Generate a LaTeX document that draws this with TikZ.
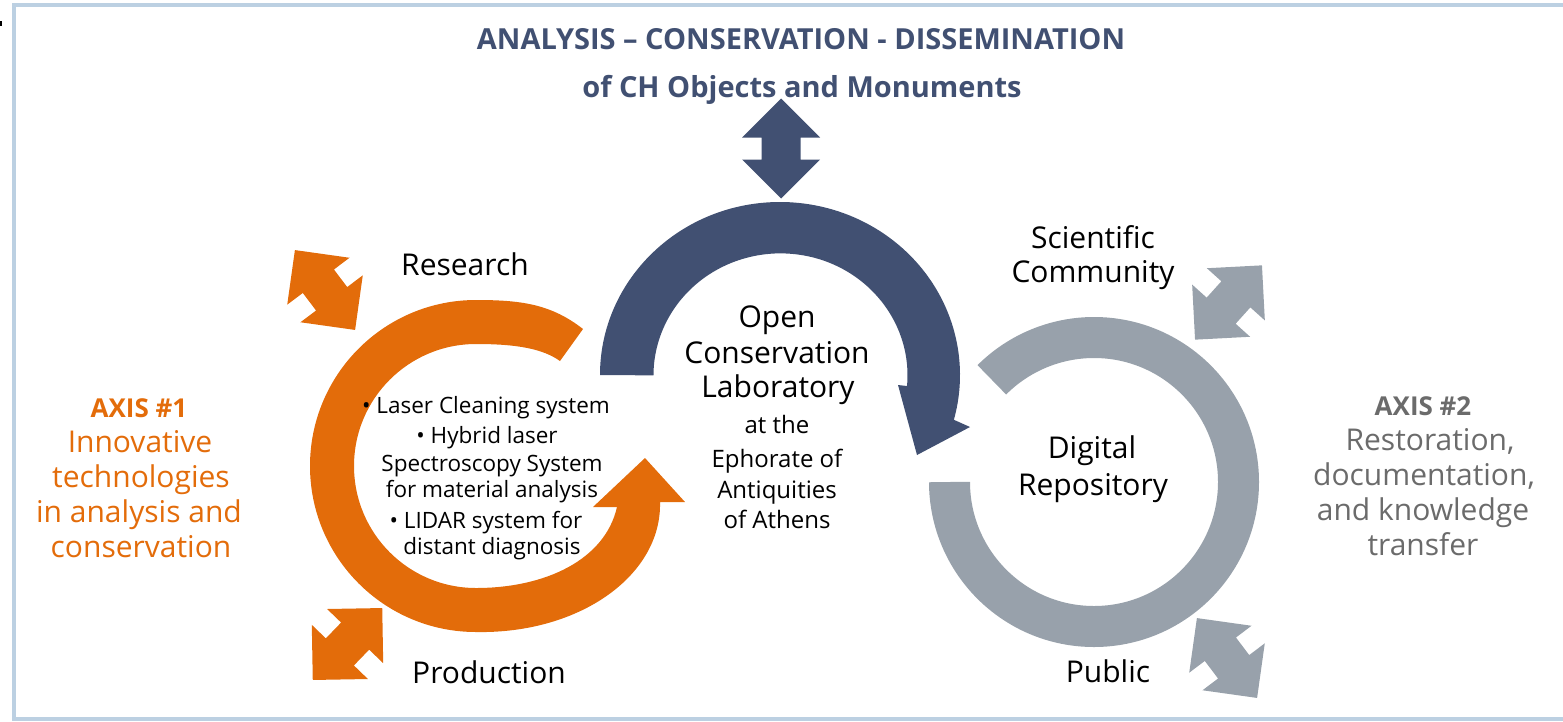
\documentclass[tikz,border=0pt]{standalone}
\usepackage{fontspec}
\setmainfont{Open Sans}
\definecolor{axisorange}{HTML}{E36C0A}
\definecolor{labblue}{HTML}{415072}
\definecolor{repogray}{HTML}{98A1AB}
\definecolor{axisgray}{HTML}{6B6B6B}
\definecolor{frameblue}{HTML}{BCD0E2}

% double-headed block arrow, centred at the scope origin, along the local x axis
\newcommand{\dblblock}[4]{%
  \begin{scope}[shift={(#1,#2)}, rotate=#3]
    \fill[#4] (-50,0) -- (-11,39) -- (-11,19.5) -- (11,19.5) -- (11,39) -- (50,0)
      -- (11,-39) -- (11,-19.5) -- (-11,-19.5) -- (-11,-39) -- cycle;
  \end{scope}}

\begin{document}
\begin{tikzpicture}[x=1pt, y=-1pt,
  lbl/.style={anchor=base, inner sep=0pt, font=\fontsize{30}{35}\selectfont},
  small/.style={anchor=base, inner sep=0pt, font=\fontsize{24}{28}\selectfont},
  bullet/.style={anchor=base, inner sep=0pt, font=\fontsize{22.5}{26}\selectfont},
  ttl/.style={anchor=base, inner sep=0pt, text=labblue, font=\bfseries\fontsize{29}{34}\selectfont},
  axhead/.style={anchor=base, inner sep=0pt, font=\bfseries\fontsize{26}{30}\selectfont}]
\useasboundingbox (0,0) rectangle (1563,721);

% frame, open on the right
\draw[frameblue, line width=4] (1580,4.7) -- (14,4.7) -- (14,718.7) -- (1580,718.7);
\fill[black] (0,20.5) rectangle (1.7,25.5);

% title
\node[ttl] (t1) at (801,49) {ANALYSIS – CONSERVATION - DISSEMINATION};
\node[ttl] (t2) at (802,97) {of CH Objects and Monuments};

% dissemination double arrow
\dblblock{781}{148.5}{-90}{labblue}

% open laboratory arc with arrowhead
\fill[labblue] (600,375) arc[start angle=180, end angle=375, x radius=180, y radius=173]
  -- (970,427) -- (917,455) -- (898,385) -- (907,386)
  arc[start angle=365, end angle=180, x radius=127, y radius=122] -- cycle;

% axis 1 cycle
\fill[axisorange] (583,329) .. controls (551,304) and (521,300) .. (476,300)
  arc[start angle=-90, end angle=-270, radius=166]
  .. controls (580,634) and (662,575) .. (660,502)
  -- (685,502) -- (645,458) -- (593,507) -- (617,507)
  .. controls (605,560) and (545,588) .. (476,588)
  arc[start angle=90, end angle=270, radius=122]
  .. controls (518,344) and (543,349) .. (560,361) -- cycle;
\dblblock{325}{290}{-53}{axisorange}
\dblblock{347.5}{644}{-134}{axisorange}

% digital repository ring
\draw[repogray, line width=41] (1094,482) ++(180:144.5)
  arc[start angle=180, end angle=-135, radius=144.5];
\dblblock{1228.5}{302.5}{-132}{repogray}
\dblblock{1227}{658}{-53}{repogray}

% labels around the cycles
\node[lbl] (research) at (465,275) {Research};
\node[lbl] (production) at (489,683) {Production};
\node[lbl] (sci1) at (1093,248) {Scientific};
\node[lbl] (sci2) at (1093,282) {Community};
\node[lbl] (public) at (1108,682) {Public};
\node[lbl] (dig1) at (1092,458) {Digital};
\node[lbl] (dig2) at (1093,495) {Repository};

% laboratory
\node[lbl] (open1) at (777,327) {Open};
\node[lbl] (open2) at (777,363) {Conservation};
\node[lbl] (open3) at (778,397) {Laboratory};
\node[small] (at1) at (777,433) {at the};
\node[small] (at2) at (777,467) {Ephorate of};
\node[small] (at3) at (777,498) {Antiquities};
\node[small] (at4) at (777,528) {of Athens};

% equipment list
\node[bullet] (b1) at (486,413) {• Laser Cleaning system};
\node[bullet] (b2) at (487,443) {• Hybrid laser};
\node[bullet] (b3) at (492,471) {Spectroscopy System};
\node[bullet] (b4) at (492,497) {for material analysis};
\node[bullet] (b5) at (486,528) {• LIDAR system for};
\node[bullet] (b6) at (492,554) {distant diagnosis};

% axis 1
\node[axhead, text=axisorange] (ax1) at (139,417) {AXIS \#1};
\node[lbl, text=axisorange] (ax1a) at (140,452) {Innovative};
\node[lbl, text=axisorange] (ax1b) at (141,487) {technologies};
\node[lbl, text=axisorange] (ax1c) at (139,522) {in analysis and};
\node[lbl, text=axisorange] (ax1d) at (141,557) {conservation};

% axis 2
\node[axhead, text=axisgray] (ax2) at (1423,415) {AXIS \#2};
\node[lbl, text=axisgray] (ax2a) at (1430,450) {Restoration,};
\node[lbl, text=axisgray] (ax2b) at (1424,485) {documentation,};
\node[lbl, text=axisgray] (ax2c) at (1423,520) {and knowledge};
\node[lbl, text=axisgray] (ax2d) at (1423,555) {transfer};
\end{tikzpicture}
\end{document}
